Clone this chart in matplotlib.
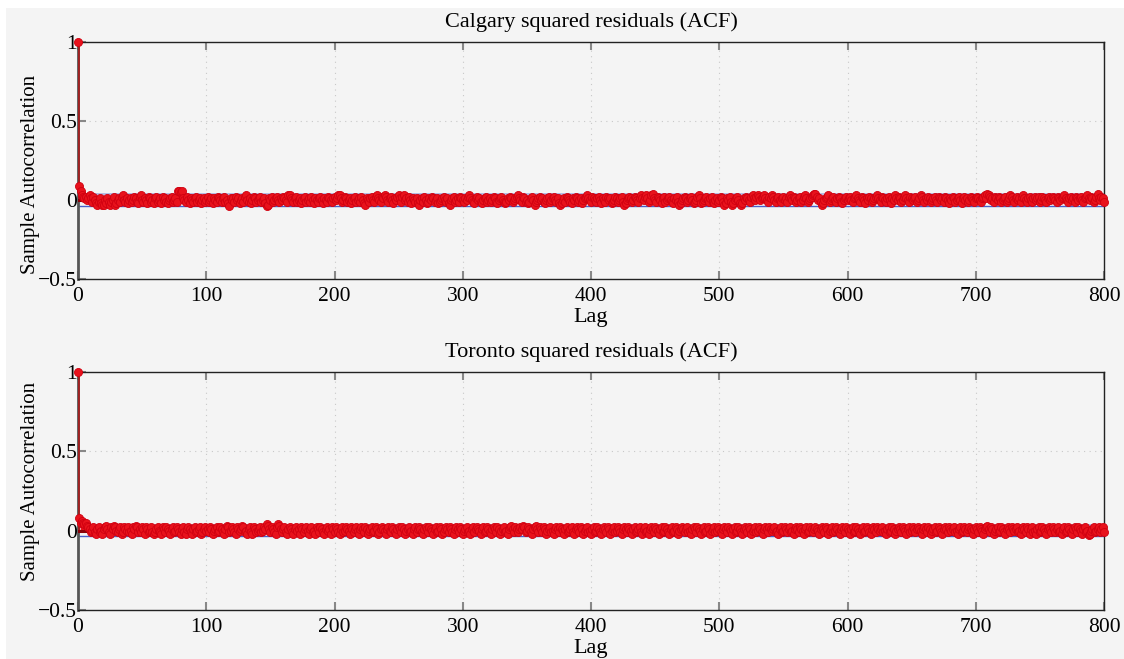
import numpy as np
import matplotlib
matplotlib.use("Agg")
import matplotlib.pyplot as plt
from matplotlib.patches import Rectangle

# ---------------- data (ACF values, lags 1..800, in hundredths) ----------------
calgary_titles = "Calgary squared residuals (ACF)"
toronto_titles = "Toronto squared residuals (ACF)"
conf_bound = 0.035

calgary_h = [
    9,6,3,2,1,2,0,1,3,1, -1,2,0,-2,-3,-1,1,-2,-3,-3, 0,-2,1,-1,-3,-1,0,2,-3,-2, 0,1,-1,2,3,0,-1,1,-2,0,
    1,-1,0,2,1,-1,-2,2,3,0, -1,1,0,-2,2,1,-1,0,-2,1, 2,-1,0,1,-2,2,0,1,-1,-2, 0,1,2,-1,0,1,-1,6,6,5,
    6,1,0,-1,2,0,-2,1,0,-1, 1,2,-1,0,1,-2,0,1,-1,0, 2,-1,0,1,-2,1,0,-1,2,1, 0,-1,1,2,-1,0,-2,-4,1,0,
    1,-1,2,0,1,-2,0,1,-1,2, 3,0,-1,1,-2,0,2,1,-1,0, 1,2,-1,0,1,-2,-4,-3,1,0, 2,-1,0,1,2,0,-1,1,0,2,
    1,0,-1,3,3,1,0,-1,1,2, -1,0,1,-2,0,1,2,-1,0,1, -1,2,0,-2,1,0,-1,1,2,0, -2,1,0,-1,2,1,0,-1,1,2,
    0,1,3,3,1,-1,0,2,1,-1, 0,1,-2,0,1,2,-1,0,1,-1, 2,0,-2,-3,1,0,-1,1,2,0, -1,2,3,1,0,-1,2,1,3,2,
    0,-1,1,2,0,-2,1,0,2,3, 1,-1,2,3,0,1,-1,2,0,-2, 1,0,-1,1,-2,-3,0,1,-1,2, 0,-2,-1,1,0,2,1,-1,0,1,
    -2,-1,0,1,2,0,-1,1,-2,-3, 0,1,2,-1,0,1,-1,2,1,0, -1,1,0,2,3,1,0,-1,-2,1, 2,0,1,-1,-2,0,1,2,-1,0,
    1,-1,0,2,1,-1,-2,0,1,2, 0,-1,-2,-1,1,0,2,1,-1,0, 1,2,3,1,0,-1,2,1,-1,0, -2,-1,1,2,0,-3,-1,0,1,2,
    0,1,-1,-2,0,1,2,-1,0,1, 2,0,-1,1,-2,-3,-2,0,1,-1, 2,1,0,-1,-2,1,0,2,1,-1, 0,1,-2,0,1,2,3,1,0,-1,
    2,1,0,-1,1,2,0,-2,1,0, -1,2,1,0,1,-2,-1,0,2,1, -1,0,1,2,-1,-3,-2,0,1,2, 1,-1,0,2,1,0,-1,1,3,1,
    0,2,3,1,-1,0,3,4,1,0, -1,2,1,0,-2,1,2,-1,0,1, 2,0,-1,-2,1,0,2,-1,-3,-2, 0,1,2,1,-1,0,1,2,0,-2,
    -1,0,2,3,1,-2,-1,0,1,2, 0,-1,1,2,-1,-2,0,1,-1,0, 2,1,-1,-3,-2,1,0,2,-1,-3, -2,0,1,2,0,-2,-3,-2,1,0,
    2,1,0,-1,2,3,1,0,2,3, 2,0,1,2,3,1,0,-1,2,1, 3,2,0,-1,1,2,0,-1,1,2, 0,1,-1,2,3,1,0,2,1,-1,
    0,1,2,-1,0,2,3,1,-1,0, 1,2,3,4,4,2,0,1,-1,-3, -2,0,1,2,3,-1,0,1,2,0, -1,1,2,1,-1,-2,0,1,2,0,
    1,2,0,-1,1,2,3,1,0,-1, 2,1,0,-2,1,0,2,1,-1,0, 1,2,3,1,0,-1,2,1,0,-1, 1,2,0,-2,1,0,3,1,0,2,
    1,-1,0,2,3,1,0,-1,2,1, 0,1,2,-1,0,1,3,2,0,-1, 1,0,2,1,-1,0,1,2,0,-1, 2,1,0,1,-1,2,1,0,-2,1,
    0,2,1,-1,0,1,2,0,-2,1, 2,0,1,-1,0,2,1,0,-1,1, 2,1,0,-1,1,2,3,1,4,3, 2,0,1,-1,2,1,0,2,1,-1,
    0,1,2,-1,0,1,3,2,0,-1, 1,2,0,1,-1,2,3,1,0,-1, 1,2,0,-1,1,2,0,1,2,-1, 0,2,1,0,-1,1,2,0,1,2,
    1,0,-1,2,1,0,1,2,3,1, 0,-1,1,2,0,1,-1,2,1,0, 1,2,0,-1,1,2,3,1,0,2, 1,-1,0,2,4,1,0,2,1,-1,
]

toronto_h = [
    8,5,6,5,4,5,3,2,1,-1, 0,2,-1,-2,1,2,-1,0,-2,1, 2,3,1,-1,-2,2,1,3,2,0, -1,1,2,-2,-1,2,1,0,2,-1,
    0,-2,2,1,3,2,-1,1,-1,2, 1,-2,2,1,-1,0,2,-1,-2,-1, 1,2,0,-1,-2,2,1,-1,2,1, 0,-2,1,2,-1,0,2,1,-1,-2,
    1,2,-1,-2,1,2,1,-1,-2,1, 2,-1,0,1,2,-2,-1,1,2,0, 1,-1,2,1,-2,0,1,2,-1,0, 2,1,-1,-2,1,3,2,-1,0,2,
    1,-1,-2,2,1,0,1,3,2,-1, 0,-2,1,2,-1,-2,2,1,-1,0, 1,2,-1,0,2,1,4,3,1,-1, 2,1,-1,-2,2,4,3,1,-1,1,
    2,-1,-2,1,2,1,-1,-2,1,2, 0,1,-2,2,1,-1,1,2,0,-2, 1,2,-1,0,-2,2,1,-1,2,1, -1,-2,1,2,0,1,-2,2,1,-1,
    2,1,-1,-2,1,2,-1,0,2,1, 0,-2,2,1,-1,1,2,0,-2,1, 2,1,-1,2,1,-2,0,1,2,-1, 0,2,1,-2,-1,1,2,1,0,-2,
    1,2,0,-1,2,1,-1,-2,1,2, 1,-1,2,1,-2,0,1,2,-1,0, -2,1,2,-1,1,2,1,-1,-2,1, 2,1,-1,2,1,0,-2,1,2,-1,
    0,2,1,-2,-1,1,2,1,-1,2, 1,-1,-2,1,2,1,-1,2,1,-2, 0,1,2,-1,0,-2,1,2,-1,1, 2,1,0,-2,1,2,-1,0,2,1,
    -1,-2,1,2,1,-1,2,1,-2,0, 1,2,-1,0,-2,1,2,3,1,-1, 2,1,-1,1,2,1,3,2,-1,0, 2,1,-1,-2,1,2,3,1,-1,2,
    1,-1,2,1,-2,0,1,2,-1,0, -2,1,2,1,-1,2,1,0,-2,1, 2,-1,0,1,2,-1,-2,1,2,1, -1,2,1,-2,0,1,2,-1,0,-2,
    1,2,-1,0,2,1,-1,-2,1,2, 1,-1,2,1,-2,0,1,2,-1,0, 2,1,-1,-2,1,2,1,-1,2,1, 0,-2,1,2,-1,0,1,2,-1,-2,
    1,2,-1,0,-2,1,2,1,-1,2, 1,0,-2,1,2,-1,0,2,1,-1, -2,1,2,-1,0,2,1,-2,0,1, 2,1,-1,1,2,-1,0,-2,1,2,
    1,-1,2,1,0,-2,1,2,-1,0, 2,1,-2,0,1,2,-1,0,2,1, -1,-2,1,2,1,-1,2,1,0,-2, 1,2,-1,0,2,1,-1,-2,1,2,
    1,-1,2,1,-2,0,1,2,-1,0, 2,1,-1,-2,1,2,1,-1,2,1, 0,1,2,-1,0,-2,1,2,-1,0, 2,1,-1,1,2,-1,0,-2,1,2,
    1,-1,2,1,0,-2,1,2,-1,0, 2,1,-1,1,2,1,0,-2,1,2, 1,-1,2,1,-2,0,1,2,-1,0, 2,1,-1,-2,1,2,1,-1,2,1,
    0,-2,1,2,-1,0,2,1,-1,-2, 1,2,-1,0,2,1,-1,-2,1,2, 1,-1,2,1,0,1,2,-1,0,-2, 1,2,-1,0,2,1,-2,0,1,2,
    1,-1,2,1,0,-2,1,2,-1,0, 2,1,-1,1,2,1,0,-2,1,2, 1,-1,2,1,-2,0,1,2,-1,0, 2,1,-1,-2,1,2,1,-1,2,1,
    0,1,2,-1,0,-2,1,2,-1,0, 2,1,-1,1,2,1,0,-2,1,2, 1,-1,2,1,0,-2,1,2,3,1, -1,2,1,-2,0,1,2,-1,0,2,
    1,-1,-2,1,2,1,-1,2,1,0, 1,2,-1,0,-2,1,2,1,-1,2, 1,-2,1,2,-1,0,-2,1,2,-1, 0,2,1,-1,-2,1,2,1,-1,2,
    1,-1,1,2,-1,0,-2,1,2,-1, 0,2,1,-1,-2,1,2,1,-1,2, 1,0,-2,1,2,-1,0,-3,-2,0, 1,2,-1,0,1,2,-1,1,2,-1,
]

calgary_acf = np.concatenate([[1.0], np.array(calgary_h) * 0.01])
toronto_acf = np.concatenate([[1.0], np.array(toronto_h) * 0.01])

x_ticks = [0, 100, 200, 300, 400, 500, 600, 700, 800]
y_ticks = [-0.5, 0, 0.5, 1]
y_ticklabels = ["\u22120.5", "0", "0.5", "1"]

# ---------------- drawing ----------------
plt.rcParams["font.family"] = ["Liberation Serif", "DejaVu Serif"]
fig = plt.figure(figsize=(11.24, 6.59), dpi=100, facecolor="white")
fig.patches.append(Rectangle((6 / 1124, 0), 1 - 6 / 1124, 1 - 8 / 659,
                             transform=fig.transFigure, facecolor="#f4f4f4",
                             edgecolor="none", zorder=-10))

W, H = 1124, 659
def add_ax(left, top, right, bottom):
    return fig.add_axes([left / W, 1 - bottom / H, (right - left) / W, (bottom - top) / H])

axes = [add_ax(78, 42, 1104, 279), add_ax(78, 372, 1104, 610)]
data = [calgary_acf, toronto_acf]
titles = [calgary_titles, toronto_titles]
ylabel_y = [0.443, 0.542]

red = "#e8121c"
for ax, acf, title, ly in zip(axes, data, titles, ylabel_y):
    lags = np.arange(len(acf))
    ax.set_facecolor("#f4f4f4")
    ax.set_xlim(0, 800)
    ax.set_ylim(-0.5, 1)
    # grid
    for xv in x_ticks[1:-1]:
        ax.axvline(xv, color="#c8c8c8", lw=0.8, ls=(0, (1, 4)), zorder=0)
    for yv in [0.5]:
        ax.axhline(yv, color="#c8c8c8", lw=0.8, ls=(0, (1, 4)), zorder=0)
    # stems
    ax.vlines(lags[1:], 0, acf[1:], color=red, lw=1.0, zorder=2)
    ax.vlines([0], 0, acf[0], color="#a02020", lw=2.0, zorder=3)
    ax.plot(lags, acf, ls="none", marker="o", ms=5.8, mfc=red, mec="#d00010",
            mew=0.6, zorder=4, clip_on=False)
    # confidence bounds
    ax.axhline(conf_bound, color="#a8b0e0", lw=1.2, zorder=1)
    ax.axhline(-conf_bound, color="#4a5fc8", lw=1.0, zorder=1)
    # baseline
    ax.axhline(0, color="#8a0008", lw=2.2, zorder=3)
    # spines & ticks
    for s in ["top", "right", "bottom"]:
        ax.spines[s].set_color("#222222")
        ax.spines[s].set_linewidth(1.0)
    ax.spines["left"].set_color("#555555")
    ax.spines["left"].set_linewidth(2.0)
    ax.set_xticks(x_ticks)
    ax.set_yticks(y_ticks)
    ax.set_yticklabels(y_ticklabels)
    ax.tick_params(direction="in", length=6, width=1.5, color="#888888",
                   labelsize=15.5, top=True, right=False)
    ax.tick_params(axis="x", pad=6)
    ax.tick_params(axis="y", pad=1)
    ax.set_title(title, fontsize=16, pad=11)
    ax.set_xlabel("Lag", fontsize=16, labelpad=1)
    ax.set_ylabel("Sample Autocorrelation", fontsize=15)
    ax.yaxis.set_label_coords(-0.037, ly)

fig.savefig("out.png", dpi=100, facecolor=fig.get_facecolor())
